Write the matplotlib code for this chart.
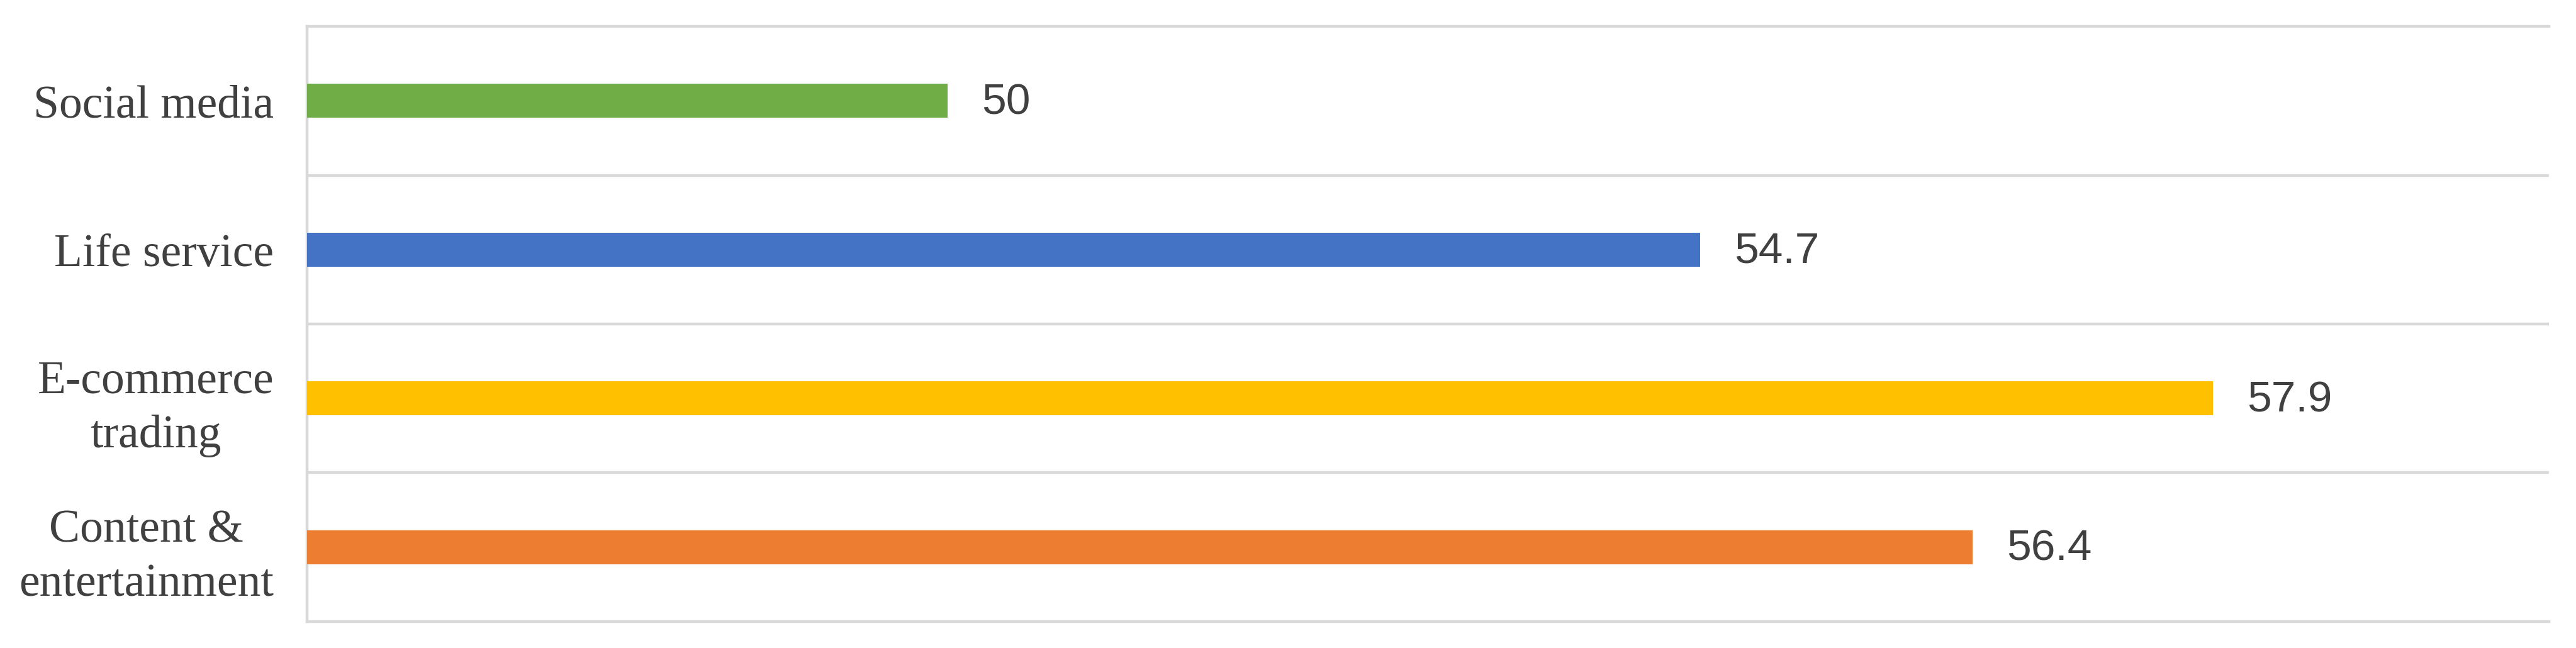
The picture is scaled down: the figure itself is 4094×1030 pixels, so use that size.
import matplotlib
matplotlib.use("Agg")
import matplotlib.pyplot as plt

# data, top to bottom as shown in the chart
categories = ["Social media", "Life service", "E-commerce\ntrading", "Content &\nentertainment"]
values = [50, 54.7, 57.9, 56.4]
value_labels = ["50", "54.7", "57.9", "56.4"]
colors = ["#70AD47", "#4472C4", "#FFC000", "#ED7D31"]

GRID = "#d9d9d9"
TEXT = "#404040"


def main() -> None:
    fig = plt.figure(figsize=(40.94, 10.30), dpi=100)
    ax = fig.add_axes([0.1192, 0.0408, 0.9895 - 0.1192, 0.9592 - 0.0408])

    pos = list(range(len(categories)))
    ax.barh(pos, values, height=0.23, color=colors, zorder=3)

    for y, v, lab in zip(pos, values, value_labels):
        ax.annotate(lab, xy=(v, y), xytext=(39, -2), textcoords="offset points",
                    va="center", ha="left", fontsize=50, color=TEXT,
                    family="Liberation Sans")

    ax.set_xlim(46, 60)
    ax.set_ylim(len(categories) - 0.5, -0.5)

    ax.set_yticks(pos)
    ax.set_yticklabels(categories, family="Liberation Serif", fontsize=53, color=TEXT)
    for t in ax.get_yticklabels():
        t.set_multialignment("center")
        t.set_linespacing(1.35)
    ax.tick_params(axis="y", length=0, pad=38)
    ax.set_xticks([])

    # horizontal separators between categories
    ax.set_yticks([i + 0.5 for i in pos[:-1]], minor=True)
    ax.tick_params(axis="y", which="minor", length=0)
    ax.grid(axis="y", which="minor", color=GRID, linewidth=3.2, zorder=0)

    for side in ["top", "bottom", "left"]:
        ax.spines[side].set_color(GRID)
        ax.spines[side].set_linewidth(3.2)
    ax.spines["right"].set_visible(False)

    fig.savefig("out.png", dpi=100, facecolor="white")


if __name__ == "__main__":
    main()
